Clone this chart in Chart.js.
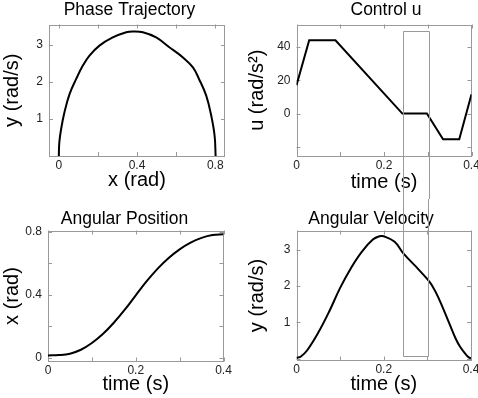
<!DOCTYPE html>
<html>
<head>
<meta charset="utf-8">
<script src="https://cdn.jsdelivr.net/npm/chart.js@4"></script>
<style>
  html, body { margin: 0; padding: 0; background: #fff; overflow: hidden; width: 478px; height: 398px; }
  canvas { position: absolute; }
</style>
</head>
<body>
<canvas id="phase" width="259" height="199" style="left:0;top:0"></canvas>
<canvas id="control" width="282" height="199" style="left:245px;top:0"></canvas>
<canvas id="position" width="249" height="199" style="left:0;top:199px"></canvas>
<canvas id="velocity" width="252" height="199" style="left:245px;top:199px"></canvas>
<script>
// phase trajectory (x in rad, y in rad/s)
const phaseX = [0, 0.003, 0.012, 0.029, 0.055, 0.089, 0.123, 0.157, 0.208, 0.276, 0.345, 0.379, 0.43, 0.498, 0.567, 0.635, 0.686, 0.717, 0.754, 0.78, 0.797, 0.802];
const phaseY = [0, 0.38, 0.73, 1.18, 1.67, 2.08, 2.44, 2.71, 2.98, 3.2, 3.34, 3.36, 3.34, 3.2, 2.93, 2.66, 2.39, 2.08, 1.63, 1.08, 0.54, 0];

// control input
const ctrlT = [0, 0.029, 0.089, 0.242, 0.298, 0.335, 0.372, 0.4];
const ctrlU = [17, 44, 44, 0, 0, -15.4, -15.4, 11.6];

// angular position
const posT = [0, 0.025, 0.05, 0.075, 0.1, 0.125, 0.15, 0.175, 0.2, 0.225, 0.25, 0.275, 0.3, 0.325, 0.35, 0.375, 0.4];
const posX = [0.014, 0.016, 0.025, 0.05, 0.093, 0.15, 0.222, 0.305, 0.397, 0.487, 0.567, 0.635, 0.69, 0.733, 0.763, 0.781, 0.786];

// angular velocity
const velT = [0, 0.01, 0.025, 0.05, 0.075, 0.1, 0.125, 0.15, 0.175, 0.19, 0.2, 0.225, 0.245, 0.275, 0.3, 0.31, 0.325, 0.35, 0.365, 0.375, 0.39, 0.395, 0.4];
const velY = [0.02, 0.06, 0.24, 0.72, 1.3, 1.95, 2.5, 2.95, 3.28, 3.37, 3.37, 3.22, 2.9, 2.52, 2.19, 2.03, 1.69, 0.98, 0.55, 0.33, 0.09, 0.035, 0.01];

// highlighted time window (drawn across control u and angular velocity)
const boxT = [0.243, 0.302];
const boxTopU = 49.5;
const boxBottomY = 0.08;

Chart.defaults.font.family = "'Liberation Sans', Arial, sans-serif";
Chart.defaults.color = '#222';

function pts(xs, ys) {
  return xs.map((x, i) => ({ x: x, y: ys[i] }));
}

function every(n) {
  return v => (Math.round(v * 10) % n === 0 ? String(Math.round(v * 100) / 100) : '');
}

// matlab-like axes box with inward ticks
const framePlugin = {
  id: 'frame',
  beforeDatasetsDraw(chart) {
    const a = chart.chartArea, ctx = chart.ctx;
    const sx = chart.scales.x, sy = chart.scales.y;
    ctx.save();
    ctx.strokeStyle = '#999';
    ctx.lineWidth = 1;
    ctx.strokeRect(Math.round(a.left) + 0.5, Math.round(a.top) + 0.5,
      Math.round(a.right - a.left) - 1, Math.round(a.bottom - a.top) - 1);
    ctx.beginPath();
    sx.ticks.forEach(t => {
      const p = Math.round(sx.getPixelForValue(t.value)) + 0.5;
      ctx.moveTo(p, a.bottom); ctx.lineTo(p, a.bottom - 4);
      ctx.moveTo(p, a.top); ctx.lineTo(p, a.top + 4);
    });
    sy.ticks.forEach(t => {
      const p = Math.round(sy.getPixelForValue(t.value)) + 0.5;
      ctx.moveTo(a.left, p); ctx.lineTo(a.left + 4, p);
      ctx.moveTo(a.right, p); ctx.lineTo(a.right - 4, p);
    });
    ctx.stroke();
    ctx.restore();
  }
};

// the tall rectangle: top half drawn by control chart, bottom half by velocity chart
const markPlugin = {
  id: 'mark',
  afterDraw(chart, args, opts) {
    if (!opts.part) return;
    const sx = chart.scales.x, sy = chart.scales.y, ctx = chart.ctx;
    const x0 = Math.round(sx.getPixelForValue(boxT[0])) + 0.5;
    const x1 = Math.round(sx.getPixelForValue(boxT[1])) + 0.5;
    ctx.save();
    ctx.strokeStyle = '#999';
    ctx.lineWidth = 1;
    ctx.beginPath();
    if (opts.part === 'top') {
      const y0 = Math.round(sy.getPixelForValue(boxTopU)) + 0.5;
      ctx.moveTo(x0, chart.height); ctx.lineTo(x0, y0); ctx.lineTo(x1, y0); ctx.lineTo(x1, chart.height);
    } else {
      const y1 = Math.round(sy.getPixelForValue(boxBottomY)) + 0.5;
      ctx.moveTo(x0, 0); ctx.lineTo(x0, y1); ctx.lineTo(x1, y1); ctx.lineTo(x1, 0);
    }
    ctx.stroke();
    ctx.restore();
  }
};

Chart.register(framePlugin, markPlugin);

function makeChart(id, c) {
  return new Chart(document.getElementById(id), {
    type: 'scatter',
    data: {
      datasets: [{
        data: c.points,
        showLine: true,
        borderColor: '#000',
        borderWidth: 2,
        pointRadius: 0,
        fill: false,
        tension: c.smooth ? 0.4 : 0
      }]
    },
    options: {
      responsive: false,
      animation: false,
      events: [],
      layout: { padding: { left: 0, right: 0, top: 0, bottom: c.padBottom } },
      plugins: {
        legend: { display: false },
        tooltip: { enabled: false },
        title: {
          display: true,
          text: c.title,
          color: '#000',
          font: { size: 17.5, weight: 'normal', lineHeight: 1 },
          padding: { top: c.titleTop, bottom: c.titleBottom }
        },
        mark: { part: c.mark || null }
      },
      scales: {
        x: {
          type: 'linear',
          min: c.xMin,
          max: c.xMax,
          grid: { display: false, drawTicks: false },
          border: { display: false },
          ticks: { stepSize: c.xStep, includeBounds: false, autoSkip: false, maxRotation: 0, padding: 2, font: { size: 12 }, callback: c.xLabel },
          title: { display: true, text: c.xTitle, color: '#000', font: { size: 20, lineHeight: 1 }, padding: 0 },
          afterFit: s => { s.height = c.xHeight; }
        },
        y: {
          type: 'linear',
          min: c.yMin,
          max: c.yMax,
          grid: { display: false, drawTicks: false },
          border: { display: false },
          ticks: { stepSize: c.yStep, includeBounds: false, autoSkip: false, padding: 6, font: { size: 12 }, callback: c.yLabel },
          title: { display: true, text: c.yTitle, color: '#000', font: { size: 20, lineHeight: 1 }, padding: { top: 2, bottom: 0 } },
          afterFit: s => { s.width = c.yWidth; }
        },
        pad: {
          type: 'linear',
          position: 'right',
          grid: { display: false, drawTicks: false },
          border: { display: false },
          ticks: { display: false },
          afterFit: s => { s.width = c.rightWidth; }
        }
      }
    }
  });
}

makeChart('phase', {
  title: 'Phase Trajectory', points: pts(phaseX, phaseY), smooth: true,
  xMin: -0.05, xMax: 0.85, xStep: 0.2, xLabel: every(4), xTitle: 'x (rad)',
  yMin: 0, yMax: 3.55, yStep: 1, yLabel: v => (v > 0 ? String(v) : ''), yTitle: 'y (rad/s)',
  yWidth: 49, rightWidth: 34, xHeight: 34, padBottom: 9, titleTop: 1, titleBottom: 6
});

makeChart('control', {
  title: 'Control u', points: pts(ctrlT, ctrlU), smooth: false, mark: 'top',
  xMin: 0, xMax: 0.4, xStep: 0.1, xLabel: every(2), xTitle: 'time (s)',
  yMin: -25.5, yMax: 53.5, yStep: 20, yLabel: v => (v >= 0 ? String(v) : ''), yTitle: 'u (rad/s²)',
  yWidth: 51.5, rightWidth: 55.5, xHeight: 36, padBottom: 7, titleTop: 1, titleBottom: 6
});

makeChart('position', {
  title: 'Angular Position', points: pts(posT, posX), smooth: true,
  xMin: 0, xMax: 0.4, xStep: 0.1, xLabel: every(2), xTitle: 'time (s)',
  yMin: -0.025, yMax: 0.81, yStep: 0.2, yLabel: every(4), yTitle: 'x (rad)',
  yWidth: 48, rightWidth: 25.5, xHeight: 33, padBottom: 3.5, titleTop: 11, titleBottom: 3
});

makeChart('velocity', {
  title: 'Angular Velocity', points: pts(velT, velY), smooth: true, mark: 'bottom',
  xMin: 0, xMax: 0.4, xStep: 0.1, xLabel: every(2), xTitle: 'time (s)',
  yMin: -0.05, yMax: 3.53, yStep: 1, yLabel: v => (v > 0 ? String(v) : ''), yTitle: 'y (rad/s)',
  yWidth: 51.5, rightWidth: 26, xHeight: 34, padBottom: 3.5, titleTop: 11, titleBottom: 3
});
</script>
</body>
</html>
